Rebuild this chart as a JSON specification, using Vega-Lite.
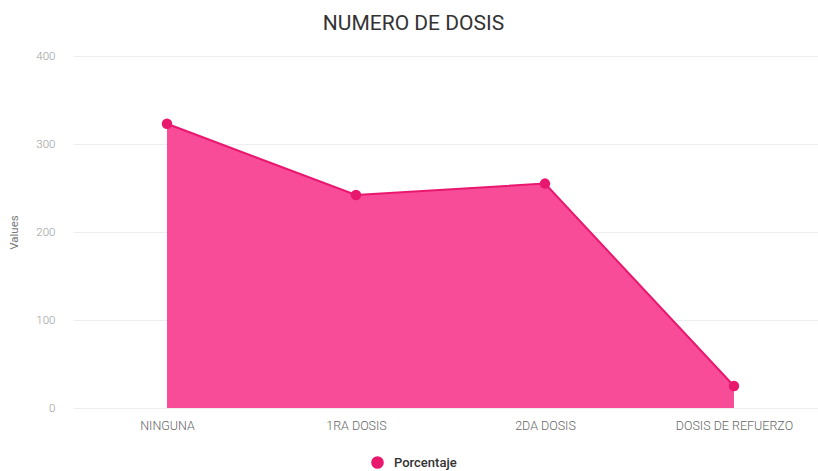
{
  "$schema": "https://vega.github.io/schema/vega-lite/v6.json",
  "autosize": {"type": "none"},
  "width": 745,
  "height": 352,
  "padding": {"left": 73, "top": 56, "right": 0, "bottom": 63},
  "background": "white",
  "config": {
    "font": "Roboto",
    "view": {"stroke": null},
    "axis": {"ticks": false, "domain": false, "labelFont": "Roboto", "titleFont": "Roboto"}
  },
  "title": {
    "text": "NUMERO DE DOSIS",
    "font": "Roboto",
    "fontSize": 21,
    "fontWeight": "normal",
    "color": "#333333",
    "anchor": "middle",
    "offset": 16,
    "dx": -32
  },
  "data": {
    "values": [
      {"Dosis": "NINGUNA", "Values": 323, "Serie": "Porcentaje"},
      {"Dosis": "1RA DOSIS", "Values": 242, "Serie": "Porcentaje"},
      {"Dosis": "2DA DOSIS", "Values": 255, "Serie": "Porcentaje"},
      {"Dosis": "DOSIS DE REFUERZO", "Values": 25, "Serie": "Porcentaje"}
    ]
  },
  "encoding": {
    "x": {
      "field": "Dosis",
      "type": "nominal",
      "sort": null,
      "scale": {"type": "point", "padding": 0.471, "align": 0.528},
      "axis": {
        "title": null,
        "labelAngle": 0,
        "labelFontSize": 12.5,
        "labelFontWeight": 300,
        "labelColor": "#666666",
        "labelPadding": 11,
        "grid": false
      }
    },
    "y": {
      "field": "Values",
      "type": "quantitative",
      "scale": {"domain": [0, 400]},
      "axis": {
        "title": "Values",
        "titleFontSize": 11.5,
        "titleFontWeight": "normal",
        "titleColor": "#777777",
        "titlePadding": 16,
        "values": [0, 100, 200, 300, 400],
        "labelOverlap": false,
        "labelFontSize": 11.5,
        "labelFontWeight": 300,
        "labelColor": "#999999",
        "labelPadding": 18,
        "gridColor": "#eeeeee",
        "gridWidth": 1
      }
    }
  },
  "layer": [
    {
      "mark": {"type": "area", "color": "#f84b98", "opacity": 1}
    },
    {
      "mark": {"type": "line", "strokeWidth": 2},
      "encoding": {
        "color": {
          "field": "Serie",
          "type": "nominal",
          "scale": {"range": ["#e8186f"]},
          "legend": {
            "title": null,
            "orient": "none",
            "legendX": 298,
            "legendY": 400,
            "direction": "horizontal",
            "symbolType": "circle",
            "symbolSize": 160,
            "symbolFillColor": "#e8186f",
            "symbolStrokeWidth": 0,
            "labelFont": "Roboto",
            "labelFontSize": 13,
            "labelFontWeight": 500,
            "labelColor": "#333333",
            "labelOffset": 10
          }
        }
      }
    },
    {
      "mark": {"type": "point", "filled": true, "size": 110, "opacity": 1},
      "encoding": {
        "color": {"field": "Serie", "type": "nominal"}
      }
    }
  ]
}
